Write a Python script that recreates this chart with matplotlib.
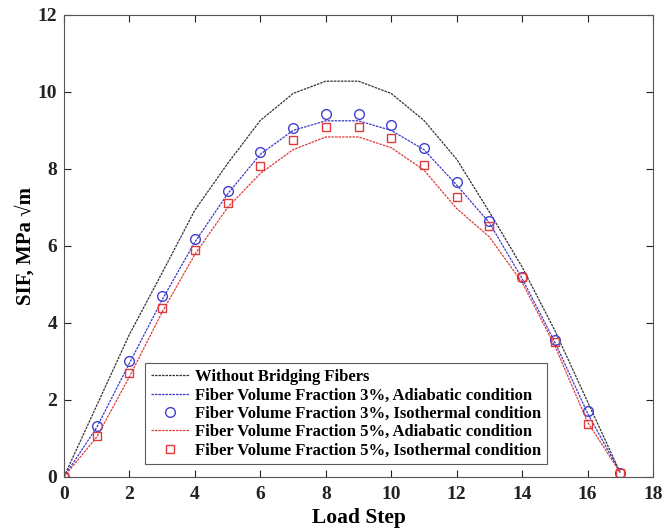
import numpy as np
import matplotlib
matplotlib.use("Agg")
import matplotlib.pyplot as plt

plt.rcParams['font.family'] = ['Liberation Serif', 'DejaVu Serif']
plt.rcParams['font.weight'] = 'bold'

load_step = np.arange(0, 18)
sif_no_fibers = [0, 1.85, 3.7, 5.3, 6.93, 8.14, 9.26, 9.96, 10.28, 10.28,
                 9.96, 9.26, 8.25, 6.88, 5.45, 3.8, 1.95, 0.1]
sif_vf3_adiabatic = [0, 1.28, 2.95, 4.6, 6.1, 7.35, 8.38, 9.0, 9.25, 9.25,
                     9.0, 8.5, 7.58, 6.6, 5.15, 3.5, 1.65, 0.1]
sif_vf3_isothermal = [0, 1.32, 3.01, 4.70, 6.19, 7.42, 8.44, 9.07, 9.42, 9.42,
                      9.13, 8.55, 7.65, 6.64, 5.19, 3.55, 1.70, 0.1]
sif_vf5_adiabatic = [0, 1.03, 2.6, 4.28, 5.78, 7.0, 7.88, 8.5, 8.83, 8.83,
                     8.55, 7.97, 6.97, 6.23, 5.05, 3.4, 1.42, 0.1]
sif_vf5_isothermal = [0, 1.07, 2.70, 4.39, 5.89, 7.12, 8.08, 8.75, 9.09, 9.09,
                      8.79, 8.10, 7.27, 6.51, 5.19, 3.49, 1.37, 0.1]

fig = plt.figure(figsize=(6.62, 5.30), dpi=100)
ax = fig.add_axes([0.0967, 0.1006, 0.8897, 0.8711])

dash = (0, (2.0, 0.8))
ax.plot(load_step, sif_no_fibers, color='#333333', lw=0.9, ls=dash,
        label='Without Bridging Fibers')
ax.plot(load_step, sif_vf3_adiabatic, color='#3a3acc', lw=0.9, ls=dash,
        label='Fiber Volume Fraction 3%, Adiabatic condition')
ax.plot(load_step, sif_vf3_isothermal, ls='none', marker='o', ms=7,
        mfc='none', mec='#4040d0', mew=1.0,
        label='Fiber Volume Fraction 3%, Isothermal condition')
ax.plot(load_step, sif_vf5_adiabatic, color='#e03a3a', lw=0.9, ls=dash,
        label='Fiber Volume Fraction 5%, Adiabatic condition')
ax.plot(load_step, sif_vf5_isothermal, ls='none', marker='s', ms=6,
        mfc='none', mec='#e03a3a', mew=1.0,
        label='Fiber Volume Fraction 5%, Isothermal condition')

ax.set_xlim(0, 18)
ax.set_ylim(0, 12)
ax.set_xticks(np.arange(0, 19, 2))
ax.set_yticks(np.arange(0, 13, 2))
ax.tick_params(direction='in', top=True, right=True, labelsize=14,
               length=5, width=0.8, colors='#222222')
ax.tick_params(axis='x', pad=7)
ax.tick_params(axis='y', pad=5)
for lbl in ax.get_xticklabels() + ax.get_yticklabels():
    lbl.set_fontweight('bold')
for sp in ax.spines.values():
    sp.set_color('#555555')
    sp.set_linewidth(0.8)

ax.set_xlabel('Load Step', fontsize=15.5, fontweight='bold', labelpad=3)
ax.set_ylabel('SIF, MPa \u221am', fontsize=15, fontweight='bold', labelpad=1)

leg = ax.legend(loc='lower left', bbox_to_anchor=(0.1375, 0.027),
                prop={'weight': 'bold', 'size': 12.0},
                frameon=True, fancybox=False, handlelength=2.3,
                handletextpad=0.35, borderpad=0.35, labelspacing=0.14,
                borderaxespad=0)
leg.get_frame().set_edgecolor('#333333')
leg.get_frame().set_linewidth(0.8)

fig.savefig('out.png', dpi=100)
